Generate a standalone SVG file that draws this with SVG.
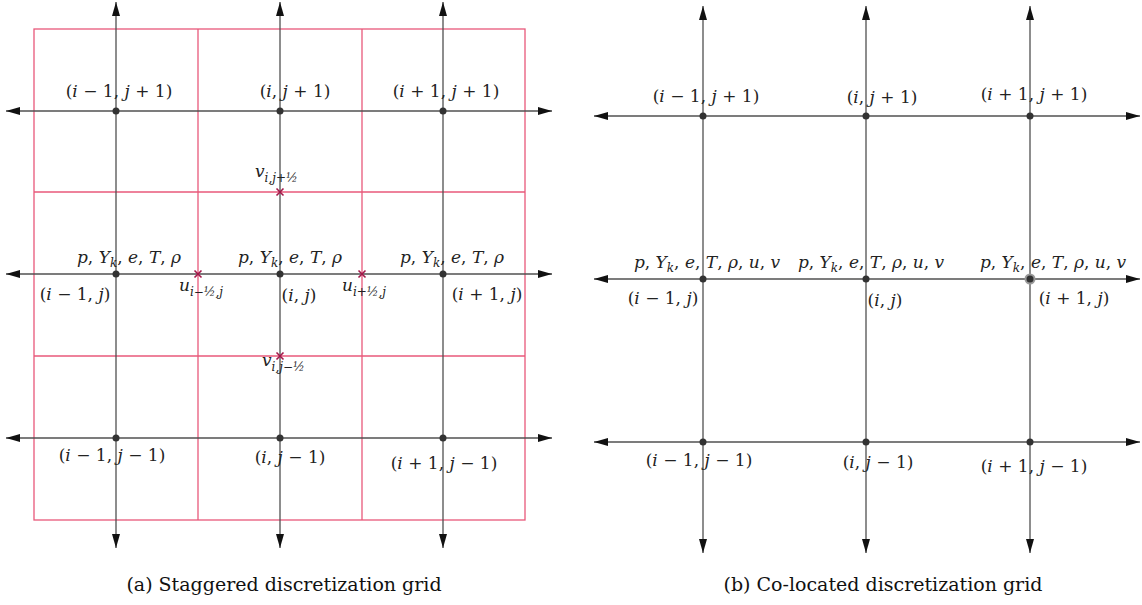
<svg xmlns="http://www.w3.org/2000/svg" width="1142" height="605" viewBox="0 0 1142 605">
<style>
.ax{stroke:#505050;stroke-width:1.3;fill:none}
.red{stroke:#e8587a;stroke-width:1.3;fill:none}
.dot{fill:#333}
.halo{fill:#999}
.cross{stroke:#a3184a;stroke-width:1.6}
.m{font-family:"DejaVu Serif",serif;font-size:17px;fill:#222}
.i{font-style:italic}
.s{font-size:12px;font-style:italic}
.cap{font-family:"DejaVu Serif",serif;font-size:19px;fill:#111}
</style>
<defs>
<marker id="ah" viewBox="0 0 14 8" refX="14" refY="4" markerWidth="14" markerHeight="8" markerUnits="userSpaceOnUse" orient="auto-start-reverse"><path d="M0,0 L14,4 L0,8 z" fill="#111"/></marker>
</defs>
<rect width="1142" height="605" fill="#fff"/>

<g id="staggered-cells">
<rect class="red" x="34" y="29" width="491" height="491"/>
<line class="red" x1="198" y1="29" x2="198" y2="520"/>
<line class="red" x1="362" y1="29" x2="362" y2="520"/>
<line class="red" x1="34" y1="192" x2="525" y2="192"/>
<line class="red" x1="34" y1="356" x2="525" y2="356"/>
</g>

<g id="connectors">
<line class="ax" x1="116" y1="2" x2="116" y2="548" marker-start="url(#ah)" marker-end="url(#ah)"/>
<line class="ax" x1="280" y1="2" x2="280" y2="548" marker-start="url(#ah)" marker-end="url(#ah)"/>
<line class="ax" x1="443" y1="2" x2="443" y2="548" marker-start="url(#ah)" marker-end="url(#ah)"/>
<line class="ax" x1="6" y1="111" x2="552" y2="111" marker-start="url(#ah)" marker-end="url(#ah)"/>
<line class="ax" x1="6" y1="274" x2="552" y2="274" marker-start="url(#ah)" marker-end="url(#ah)"/>
<line class="ax" x1="6" y1="438" x2="552" y2="438" marker-start="url(#ah)" marker-end="url(#ah)"/>
<line class="ax" x1="703" y1="6" x2="703" y2="553" marker-start="url(#ah)" marker-end="url(#ah)"/>
<line class="ax" x1="866" y1="6" x2="866" y2="553" marker-start="url(#ah)" marker-end="url(#ah)"/>
<line class="ax" x1="1030" y1="6" x2="1030" y2="553" marker-start="url(#ah)" marker-end="url(#ah)"/>
<line class="ax" x1="594" y1="116" x2="1140" y2="116" marker-start="url(#ah)" marker-end="url(#ah)"/>
<line class="ax" x1="594" y1="279" x2="1140" y2="279" marker-start="url(#ah)" marker-end="url(#ah)"/>
<line class="ax" x1="594" y1="442" x2="1140" y2="442" marker-start="url(#ah)" marker-end="url(#ah)"/>
</g>

<!-- Staggered grid nodes -->
<g id="a-im1-jp1"><circle class="dot" cx="116" cy="111" r="3.5"/>
<text class="m" x="119" y="97" text-anchor="middle">(<tspan class="i">i</tspan> − 1, <tspan class="i">j</tspan> + 1)</text></g>
<g id="a-i-jp1"><circle class="dot" cx="280" cy="111" r="3.5"/>
<text class="m" x="295" y="97" text-anchor="middle">(<tspan class="i">i</tspan>, <tspan class="i">j</tspan> + 1)</text></g>
<g id="a-ip1-jp1"><circle class="dot" cx="443" cy="111" r="3.5"/>
<text class="m" x="446" y="97" text-anchor="middle">(<tspan class="i">i</tspan> + 1, <tspan class="i">j</tspan> + 1)</text></g>

<g id="a-im1-j"><circle class="dot" cx="116" cy="274" r="3.5"/>
<text class="m" x="129" y="263" text-anchor="middle"><tspan class="i">p</tspan>, <tspan class="i">Y</tspan><tspan class="s" dy="4">k</tspan><tspan dy="-4">, </tspan><tspan class="i">e</tspan>, <tspan class="i">T</tspan>, <tspan class="i">ρ</tspan></text>
<text class="m" x="75" y="300" text-anchor="middle">(<tspan class="i">i</tspan> − 1, <tspan class="i">j</tspan>)</text></g>
<g id="a-i-j"><circle class="dot" cx="280" cy="274" r="3.5"/>
<text class="m" x="290" y="263" text-anchor="middle"><tspan class="i">p</tspan>, <tspan class="i">Y</tspan><tspan class="s" dy="4">k</tspan><tspan dy="-4">, </tspan><tspan class="i">e</tspan>, <tspan class="i">T</tspan>, <tspan class="i">ρ</tspan></text>
<text class="m" x="299" y="301" text-anchor="middle">(<tspan class="i">i</tspan>, <tspan class="i">j</tspan>)</text></g>
<g id="a-ip1-j"><circle class="dot" cx="443" cy="274" r="3.5"/>
<text class="m" x="452" y="263" text-anchor="middle"><tspan class="i">p</tspan>, <tspan class="i">Y</tspan><tspan class="s" dy="4">k</tspan><tspan dy="-4">, </tspan><tspan class="i">e</tspan>, <tspan class="i">T</tspan>, <tspan class="i">ρ</tspan></text>
<text class="m" x="487" y="300" text-anchor="middle">(<tspan class="i">i</tspan> + 1, <tspan class="i">j</tspan>)</text></g>

<g id="a-im1-jm1"><circle class="dot" cx="116" cy="438" r="3.5"/>
<text class="m" x="112" y="461" text-anchor="middle">(<tspan class="i">i</tspan> − 1, <tspan class="i">j</tspan> − 1)</text></g>
<g id="a-i-jm1"><circle class="dot" cx="280" cy="438" r="3.5"/>
<text class="m" x="290" y="463" text-anchor="middle">(<tspan class="i">i</tspan>, <tspan class="i">j</tspan> − 1)</text></g>
<g id="a-ip1-jm1"><circle class="dot" cx="443" cy="438" r="3.5"/>
<text class="m" x="444" y="469" text-anchor="middle">(<tspan class="i">i</tspan> + 1, <tspan class="i">j</tspan> − 1)</text></g>

<g id="a-u-im"><path class="cross" d="M194.5,270.5 L201.5,277.5 M201.5,270.5 L194.5,277.5"/>
<text class="m" x="179" y="291"><tspan class="i">u</tspan><tspan class="s" dy="5">i−½,j</tspan></text></g>
<g id="a-u-ip"><path class="cross" d="M358.5,270.5 L365.5,277.5 M365.5,270.5 L358.5,277.5"/>
<text class="m" x="342" y="291"><tspan class="i">u</tspan><tspan class="s" dy="5">i+½,j</tspan></text></g>
<g id="a-v-jp"><path class="cross" d="M276.5,188.5 L283.5,195.5 M283.5,188.5 L276.5,195.5"/>
<text class="m" x="255" y="177"><tspan class="i">v</tspan><tspan class="s" dy="5">i,j+½</tspan></text></g>
<g id="a-v-jm"><path class="cross" d="M276.5,352.5 L283.5,359.5 M283.5,352.5 L276.5,359.5"/>
<text class="m" x="262" y="366"><tspan class="i">v</tspan><tspan class="s" dy="5">i,j−½</tspan></text></g>

<!-- Co-located grid nodes -->
<g id="b-im1-jp1"><circle class="dot" cx="703" cy="116" r="3.5"/>
<text class="m" x="706" y="102" text-anchor="middle">(<tspan class="i">i</tspan> − 1, <tspan class="i">j</tspan> + 1)</text></g>
<g id="b-i-jp1"><circle class="dot" cx="866" cy="116" r="3.5"/>
<text class="m" x="882" y="103" text-anchor="middle">(<tspan class="i">i</tspan>, <tspan class="i">j</tspan> + 1)</text></g>
<g id="b-ip1-jp1"><circle class="dot" cx="1030" cy="116" r="3.5"/>
<text class="m" x="1034" y="100" text-anchor="middle">(<tspan class="i">i</tspan> + 1, <tspan class="i">j</tspan> + 1)</text></g>

<g id="b-im1-j"><circle class="dot" cx="703" cy="279" r="3.5"/>
<text class="m" x="707" y="268" text-anchor="middle"><tspan class="i">p</tspan>, <tspan class="i">Y</tspan><tspan class="s" dy="4">k</tspan><tspan dy="-4">, </tspan><tspan class="i">e</tspan>, <tspan class="i">T</tspan>, <tspan class="i">ρ</tspan>, <tspan class="i">u</tspan>, <tspan class="i">v</tspan></text>
<text class="m" x="663" y="304" text-anchor="middle">(<tspan class="i">i</tspan> − 1, <tspan class="i">j</tspan>)</text></g>
<g id="b-i-j"><circle class="dot" cx="866" cy="279" r="3.5"/>
<text class="m" x="871" y="268" text-anchor="middle"><tspan class="i">p</tspan>, <tspan class="i">Y</tspan><tspan class="s" dy="4">k</tspan><tspan dy="-4">, </tspan><tspan class="i">e</tspan>, <tspan class="i">T</tspan>, <tspan class="i">ρ</tspan>, <tspan class="i">u</tspan>, <tspan class="i">v</tspan></text>
<text class="m" x="885" y="306" text-anchor="middle">(<tspan class="i">i</tspan>, <tspan class="i">j</tspan>)</text></g>
<g id="b-ip1-j"><circle class="halo" cx="1030" cy="279" r="5.5"/><circle class="dot" cx="1030" cy="279" r="3.5"/>
<text class="m" x="1053" y="268" text-anchor="middle"><tspan class="i">p</tspan>, <tspan class="i">Y</tspan><tspan class="s" dy="4">k</tspan><tspan dy="-4">, </tspan><tspan class="i">e</tspan>, <tspan class="i">T</tspan>, <tspan class="i">ρ</tspan>, <tspan class="i">u</tspan>, <tspan class="i">v</tspan></text>
<text class="m" x="1074" y="304" text-anchor="middle">(<tspan class="i">i</tspan> + 1, <tspan class="i">j</tspan>)</text></g>

<g id="b-im1-jm1"><circle class="dot" cx="703" cy="442" r="3.5"/>
<text class="m" x="699" y="466" text-anchor="middle">(<tspan class="i">i</tspan> − 1, <tspan class="i">j</tspan> − 1)</text></g>
<g id="b-i-jm1"><circle class="dot" cx="866" cy="442" r="3.5"/>
<text class="m" x="878" y="468" text-anchor="middle">(<tspan class="i">i</tspan>, <tspan class="i">j</tspan> − 1)</text></g>
<g id="b-ip1-jm1"><circle class="dot" cx="1030" cy="442" r="3.5"/>
<text class="m" x="1034" y="472" text-anchor="middle">(<tspan class="i">i</tspan> + 1, <tspan class="i">j</tspan> − 1)</text></g>

<g id="captions">
<text class="cap" x="284" y="591" text-anchor="middle">(a)  Staggered discretization grid</text>
<text class="cap" x="883" y="591" text-anchor="middle">(b)  Co-located discretization grid</text>
</g>
</svg>
